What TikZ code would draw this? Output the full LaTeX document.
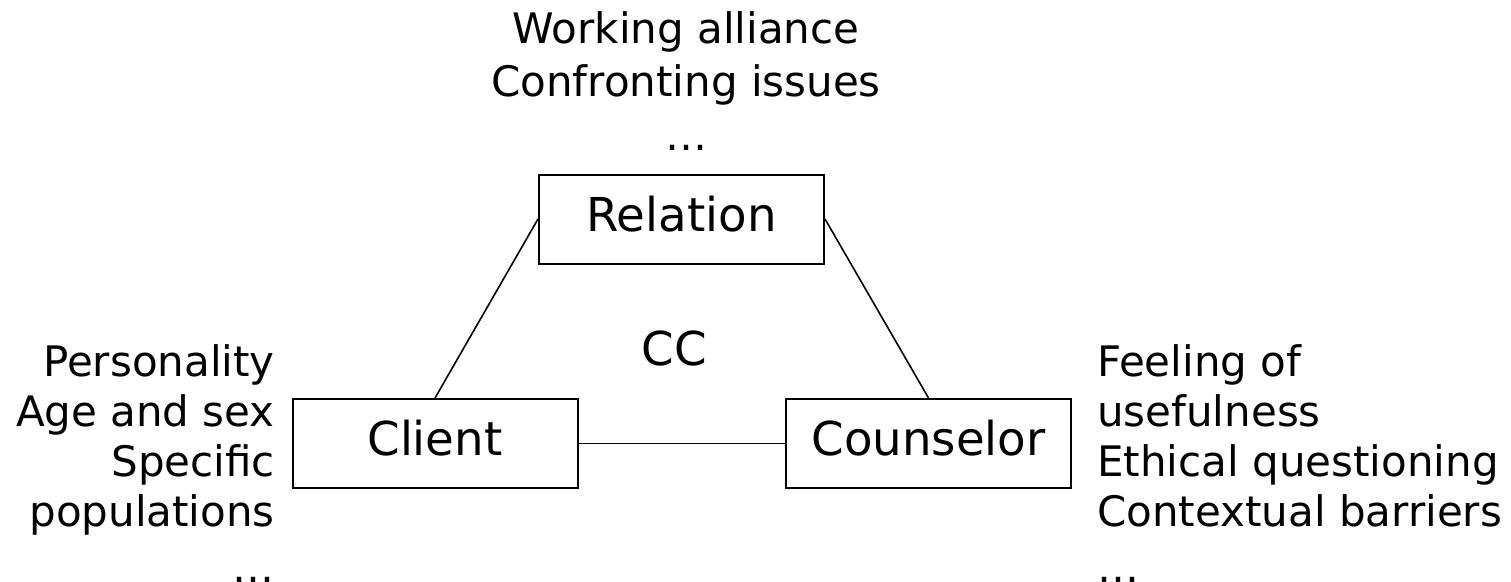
\documentclass[tikz,border=0pt]{standalone}
\usepackage{fontspec}
\setmainfont{DejaVu Sans}
\begin{document}
\begin{tikzpicture}[x=1pt,y=-1pt,
  box/.style={draw, line width=2pt, minimum width=285pt, minimum height=89pt,
    inner sep=0pt, text height=36pt, text depth=12pt,
    font=\fontsize{46.7}{56}\selectfont},
  link/.style={line width=1.6pt},
  note/.style={inner sep=0pt, font=\fontsize{42}{50.2}\selectfont},
  big/.style={inner sep=0pt, font=\fontsize{46.7}{56}\selectfont}]
\useasboundingbox (0,0) rectangle (1511,581);
\node[box] (rel) at (681.5,219) {Relation};
\node[box] (cli) at (435,443.5) {Client};
\node[box] (cou) at (928.5,443.5) {Counselor};
\draw[link] (rel.west) -- (cli.north);
\draw[link] (rel.east) -- (cou.north);
\draw[link] (cli.east) -- (cou.west);
\node[big, anchor=base] (cc) at (674.5,365) {CC};
\node[note, anchor=base, align=center] (top) at (686,150)
  {Working alliance\\[3.3pt]Confronting issues\\[3.3pt]…};
\node[note, anchor=base east, align=right] (left) at (275,582)
  {Personality\\Age and sex\\Specific\\populations\\[5pt]…};
\node[note, anchor=base west, align=left] (right) at (1097,582)
  {Feeling of\\usefulness\\Ethical questioning\\Contextual barriers\\[5pt]…};
\end{tikzpicture}
\end{document}
